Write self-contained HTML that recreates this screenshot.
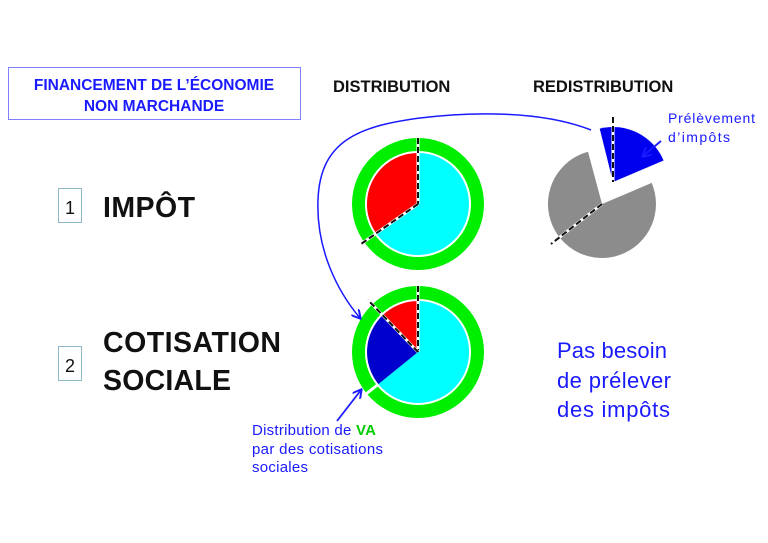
<!DOCTYPE html>
<html><head><meta charset="utf-8"><style>
body{margin:0;background:#fff;}
svg{display:block;font-family:"Liberation Sans",Arial,sans-serif;}
</style></head><body>
<svg width="768" height="543" viewBox="0 0 768 543" xmlns="http://www.w3.org/2000/svg">
<defs>
<marker id="ah" markerWidth="10" markerHeight="10" refX="8" refY="5" orient="auto" markerUnits="userSpaceOnUse">
<path d="M0,0 L9,5 L0,10" fill="none" stroke="#1a1aff" stroke-width="2"/>
</marker>
</defs>
<rect x="8.5" y="67.5" width="292" height="52" fill="#fff" stroke="#8080ff" stroke-width="1"/>
<text x="154" y="90" text-anchor="middle" font-size="15.5" font-weight="bold" fill="#1a1aff">FINANCEMENT DE L’ÉCONOMIE</text>
<text x="154" y="111" text-anchor="middle" font-size="15.5" font-weight="bold" fill="#1a1aff">NON MARCHANDE</text>

<text x="333" y="92" font-size="16.5" font-weight="bold" fill="#111">DISTRIBUTION</text>
<text x="533" y="92" font-size="16.5" font-weight="bold" fill="#111">REDISTRIBUTION</text>

<rect x="58.5" y="188.5" width="23" height="34" fill="#fff" stroke="#8fb8c8"/>
<text x="70" y="214" text-anchor="middle" font-size="18" fill="#111">1</text>
<text x="103" y="217" font-size="28.5" font-weight="bold" fill="#111" textLength="92">IMPÔT</text>

<rect x="58.5" y="346.5" width="23" height="34" fill="#fff" stroke="#8fb8c8"/>
<text x="70" y="372" text-anchor="middle" font-size="18" fill="#111">2</text>
<text x="103" y="352" font-size="28.5" font-weight="bold" fill="#111" textLength="178">COTISATION</text>
<text x="103" y="390" font-size="28.5" font-weight="bold" fill="#111" textLength="128">SOCIALE</text>

<!-- Pie 1 -->
<circle cx="418" cy="204" r="59.5" fill="none" stroke="#00ee00" stroke-width="13"/>
<path d="M418,204 L418,153 A51,51 0 1 1 376.2,233.3 Z" fill="#00ffff"/>
<path d="M418,204 L376.2,233.3 A51,51 0 0 1 418,153 Z" fill="#ff0000"/>
<line x1="418" y1="138" x2="418" y2="204" stroke="#fff" stroke-width="3"/>
<line x1="418" y1="138" x2="418" y2="204" stroke="#111" stroke-width="2" stroke-dasharray="6,3"/>
<line x1="418" y1="204" x2="361" y2="244" stroke="#fff" stroke-width="3"/>
<line x1="418" y1="204" x2="361" y2="244" stroke="#111" stroke-width="2" stroke-dasharray="6,3"/>

<!-- Pie 2 -->
<circle cx="418" cy="352" r="59.5" fill="none" stroke="#00ee00" stroke-width="13"/>
<path d="M418,352 L418,301 A51,51 0 1 1 378.4,384.1 Z" fill="#00ffff"/>
<path d="M418,352 L378.4,384.1 A51,51 0 0 1 382.6,315.3 Z" fill="#0000cc"/>
<path d="M418,352 L382.6,315.3 A51,51 0 0 1 418,301 Z" fill="#ff0000"/>
<line x1="378" y1="384.5" x2="366" y2="394" stroke="#fff" stroke-width="3"/>
<line x1="418" y1="286" x2="418" y2="352" stroke="#fff" stroke-width="3"/>
<line x1="418" y1="286" x2="418" y2="352" stroke="#111" stroke-width="2" stroke-dasharray="6,3"/>
<line x1="418" y1="352" x2="368" y2="300" stroke="#fff" stroke-width="3"/>
<line x1="418" y1="352" x2="368" y2="300" stroke="#111" stroke-width="2" stroke-dasharray="6,3"/>

<!-- Redistribution pie -->
<path d="M602,204 L651.7,182.9 A54,54 0 1 1 588,151.8 Z" fill="#8c8c8c"/>
<path d="M613,182 L599.7,128.6 A55,55 0 0 1 663.6,160.5 Z" fill="#0000ee"/>
<line x1="613" y1="117" x2="613" y2="182" stroke="#fff" stroke-width="3"/>
<line x1="613" y1="117" x2="613" y2="182" stroke="#111" stroke-width="2" stroke-dasharray="6,3"/>
<line x1="602" y1="204" x2="551" y2="244" stroke="#fff" stroke-width="3"/>
<line x1="602" y1="204" x2="551" y2="244" stroke="#111" stroke-width="2" stroke-dasharray="6,3"/>

<text x="668" y="123" font-size="14" fill="#1a1aff" textLength="87">Prélèvement</text>
<text x="668" y="142" font-size="14" fill="#1a1aff" textLength="62">d’impôts</text>
<line x1="661" y1="141" x2="643" y2="156" stroke="#1a1aff" stroke-width="1.8" marker-end="url(#ah)"/>

<!-- Curve -->
<path d="M591,130 C540,110 470,112 420,118 C360,126 320,140 318,200 C316,250 338,292 360,318" fill="none" stroke="#1a1aff" stroke-width="1.5" marker-end="url(#ah)"/>

<text x="557" y="358" font-size="22" fill="#1a1aff" textLength="110">Pas besoin</text>
<text x="557" y="388" font-size="22" fill="#1a1aff" textLength="114">de prélever</text>
<text x="557" y="417" font-size="22" fill="#1a1aff" textLength="113">des impôts</text>

<text x="252" y="435" font-size="15" fill="#1a1aff" textLength="124">Distribution de <tspan fill="#00cc00" font-weight="bold">VA</tspan></text>
<text x="252" y="454" font-size="15" fill="#1a1aff" textLength="131">par des cotisations</text>
<text x="252" y="472" font-size="15" fill="#1a1aff" textLength="56">sociales</text>
<line x1="337" y1="421" x2="361" y2="390" stroke="#1a1aff" stroke-width="1.8" marker-end="url(#ah)"/>
</svg>
</body></html>
